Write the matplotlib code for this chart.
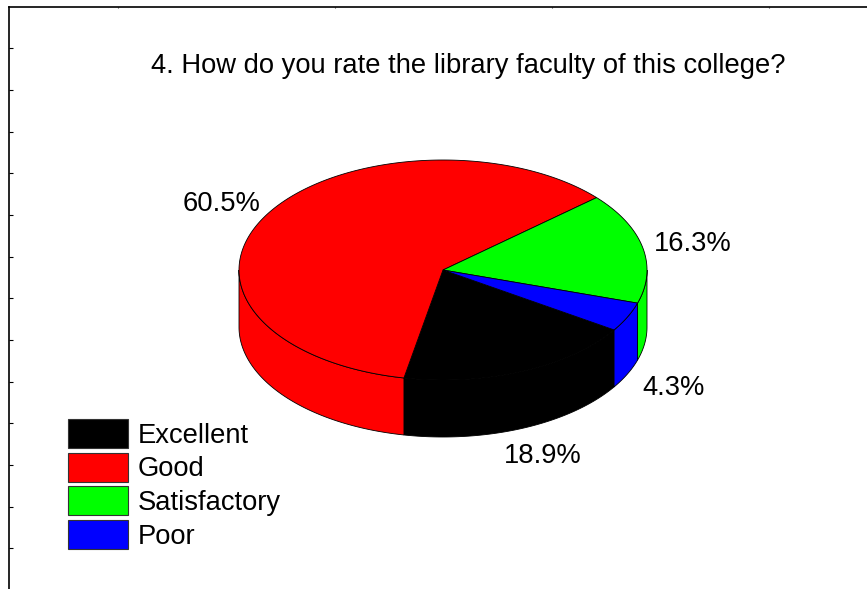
import numpy as np
import matplotlib.pyplot as plt
from matplotlib.patches import Polygon, Rectangle

plt.rcParams['font.family'] = ['Liberation Sans', 'DejaVu Sans']

title = "4. How do you rate the library faculty of this college?"
categories = ["Excellent", "Good", "Satisfactory", "Poor"]
shares = [18.9, 60.5, 16.3, 4.3]
colors = ["#000000", "#ff0000", "#00ff00", "#0000ff"]
frame_yticks = [48, 90, 132, 173, 215, 257, 298, 340, 382, 423, 465, 507, 548]
frame_xticks = [118, 335, 552, 769]

W, H = 867, 589
fs = 19.7
fig = plt.figure(figsize=(W / 100, H / 100), dpi=100)

# border of the (cropped) chart area, with its little inward ticks
left_px, top_px = 9, 6.5
frame_h = 1.2 - top_px / H
frame = fig.add_axes([left_px / W, -0.2, 1.0, frame_h])
frame.set_xlim(left_px, left_px + W)
frame.set_ylim(top_px + frame_h * H, top_px)
frame.xaxis.tick_top()
frame.set_xticks(frame_xticks)
frame.set_yticks(frame_yticks)
frame.set_xticklabels([])
frame.set_yticklabels([])
frame.tick_params(axis='y', direction='in', length=3, width=0.8)
frame.tick_params(axis='x', direction='in', length=0.8, width=0.8, colors='#444444')
for s in ('left', 'top'):
    frame.spines[s].set_linewidth(1.2)

# pie drawn in pixel coordinates
ax = fig.add_axes([0, 0, 1, 1])
ax.set_xlim(0, W)
ax.set_ylim(H, 0)
ax.axis('off')

cx, cy, rx, ry, depth = 443, 270, 204, 110, 57
start = -33.0


def ell(t, dy=0.0, k=1.0):
    r = np.radians(t)
    return np.column_stack([cx + k * rx * np.cos(r), cy - k * ry * np.sin(r) + dy])


bounds = start - np.concatenate([[0], np.cumsum(shares)]) * 3.6

# front wall
for i in range(len(shares)):
    hi, lo = bounds[i], bounds[i + 1]
    for k in (-360, 0, 360):
        a0 = max(lo + k, -180)
        a1 = min(hi + k, 0)
        if a1 > a0:
            t = np.linspace(a0, a1, 120)
            pts = np.vstack([ell(t), ell(t[::-1], depth)])
            ax.add_patch(Polygon(pts, closed=True, fc=colors[i], ec='black', lw=0.6))

# top face
for i in range(len(shares)):
    t = np.linspace(bounds[i], bounds[i + 1], 240)
    pts = np.vstack([[cx, cy], ell(t)])
    ax.add_patch(Polygon(pts, closed=True, fc=colors[i], ec='black', lw=0.6))

# percentage labels
for i, s in enumerate(shares):
    mid = (bounds[i] + bounds[i + 1]) / 2
    x, y = ell(np.array([mid]), k=1.25)[0]
    if np.sin(np.radians(mid)) < 0:
        y += depth
    ax.text(x, y + 9.5, f"{s:.1f}%", ha='center', va='baseline', fontsize=fs)

ax.text(468.5, 73, title, ha='center', va='baseline', fontsize=fs)

# legend
for i, (name, c) in enumerate(zip(categories, colors)):
    y0 = 419 + i * 33.5
    ax.add_patch(Rectangle((68, y0), 60, 29, fc=c, ec='#333333', lw=0.8))
    ax.text(138, y0 + 14.5 + 9.5, name, ha='left', va='baseline', fontsize=fs)

fig.savefig('out.png', dpi=100)
